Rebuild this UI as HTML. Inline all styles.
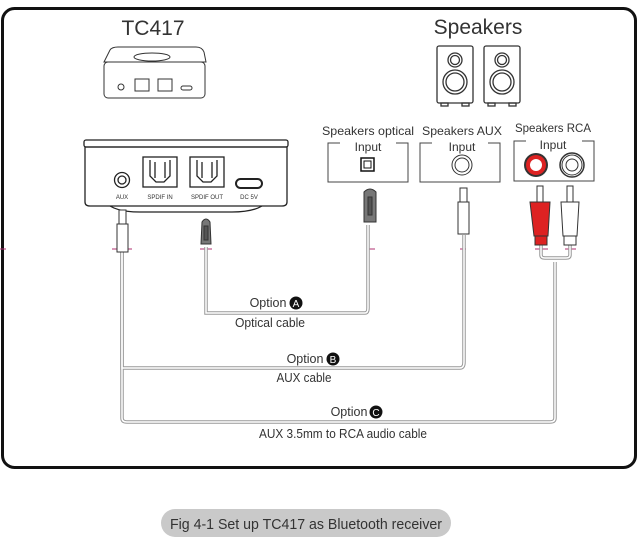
<!DOCTYPE html>
<html><head><style>
html,body{margin:0;padding:0;background:#fff;}
svg{display:block;}
text{font-family:"Liberation Sans",sans-serif;fill:#333;}
</style></head><body>
<svg width="639" height="542" viewBox="0 0 639 542" xmlns="http://www.w3.org/2000/svg">
<rect x="2.5" y="8.5" width="633" height="459" rx="12" fill="#fff" stroke="#111" stroke-width="3"/>
<g stroke="#b03070" stroke-width="1">
<line x1="0" y1="249" x2="6" y2="249"/><line x1="112" y1="249" x2="132" y2="249"/>
<line x1="200" y1="249" x2="212" y2="249"/><line x1="368" y1="249" x2="375" y2="249"/>
<line x1="460" y1="249" x2="466" y2="249"/><line x1="535" y1="249" x2="548" y2="249"/><line x1="565" y1="249" x2="576" y2="249"/>
</g>
<text x="153" y="35" font-size="21" text-anchor="middle">TC417</text>
<text x="478" y="34" font-size="21" text-anchor="middle">Speakers</text>
<g fill="none" stroke="#333" stroke-width="1">
<path d="M110 50 Q112 47 118 47 L196 47 Q202 47 204 52 L206 62 L104 62 Z"/>
<rect x="104" y="62" width="101" height="36" rx="4"/>
<ellipse cx="152" cy="57" rx="18" ry="4"/>
<circle cx="121" cy="87" r="3"/>
<rect x="135" y="79" width="14" height="12"/><rect x="158" y="79" width="14" height="12"/>
<rect x="181" y="86" width="11" height="4" rx="2"/>
</g>
<g fill="none" stroke="#333" stroke-width="1.3">
<rect x="437" y="46" width="36" height="57" rx="2"/><rect x="484" y="46" width="36" height="57" rx="2"/>
<circle cx="455" cy="60" r="7"/><circle cx="455" cy="60" r="4.5"/><circle cx="455" cy="82" r="12"/><circle cx="455" cy="82" r="9"/>
<circle cx="502" cy="60" r="7"/><circle cx="502" cy="60" r="4.5"/><circle cx="502" cy="82" r="12"/><circle cx="502" cy="82" r="9"/>
<rect x="441" y="103" width="7" height="3"/><rect x="462" y="103" width="7" height="3"/>
<rect x="488" y="103" width="7" height="3"/><rect x="509" y="103" width="7" height="3"/>
</g>
<g fill="none" stroke="#222" stroke-width="1.3">
<rect x="84" y="140" width="204" height="7" rx="2"/>
<path d="M85 147 L287 147 L287 202 Q287 206 282 206 L90 206 Q85 206 85 202 Z"/>
<path d="M110 206 Q120 212 140 212 L232 212 Q252 212 262 206"/>
<circle cx="122" cy="180" r="7.5"/><circle cx="122" cy="180" r="4"/>
<rect x="143" y="157" width="34" height="30"/><path d="M150 160 L150 176 L156 182 L164 182 L170 176 L170 160 M155 162 L155 178 M165 162 L165 178"/>
<rect x="190" y="157" width="34" height="30"/><path d="M197 160 L197 176 L203 182 L211 182 L217 176 L217 160 M202 162 L202 178 M212 162 L212 178"/>
<rect x="236" y="179" width="26" height="9" rx="4.5" stroke-width="2"/>
</g>
<g font-size="6" text-anchor="middle"><text x="122" y="199">AUX</text><text x="160" y="199">SPDIF IN</text><text x="207" y="199">SPDIF OUT</text><text x="249" y="199">DC 5V</text></g>
<g fill="none" stroke="#444" stroke-width="1">
<path d="M340 143 L328 143 L328 182 L408 182 L408 143 L396 143"/>
<path d="M432 143 L420 143 L420 182 L500 182 L500 143 L488 143"/>
<path d="M526 141 L514 141 L514 181 L594 181 L594 141 L582 141"/>
</g>
<g font-size="12" text-anchor="middle" textLength="0">
<text x="368" y="135" textLength="92" lengthAdjust="spacingAndGlyphs">Speakers optical</text><text x="368" y="151">Input</text>
<text x="462" y="135" textLength="80" lengthAdjust="spacingAndGlyphs">Speakers AUX</text><text x="462" y="151">Input</text>
<text x="553" y="132" textLength="76" lengthAdjust="spacingAndGlyphs">Speakers RCA</text><text x="553" y="149">Input</text>
</g>
<rect x="361" y="158" width="13" height="13" fill="none" stroke="#111" stroke-width="1.5"/>
<path d="M364 161 L364 168 L371 168 L371 161 Z" fill="none" stroke="#111"/>
<circle cx="462" cy="165" r="10" fill="none" stroke="#333"/><circle cx="462" cy="165" r="7" fill="none" stroke="#333"/>
<circle cx="536" cy="165" r="12" fill="#333"/><circle cx="536" cy="165" r="10" fill="#d22"/><circle cx="536" cy="165" r="6" fill="#fff"/>
<circle cx="572" cy="165" r="12" fill="none" stroke="#333" stroke-width="1.5"/><circle cx="572" cy="165" r="10" fill="none" stroke="#333"/><circle cx="572" cy="165" r="6" fill="none" stroke="#333"/>
<g fill="none" stroke="#999" stroke-width="3.5"><path d="M206 247 L206 313 L365 313 Q368 313 368 308 L368 225"/>
<path d="M122 252 L122 368 L460 368 Q464 368 464 362 L464 235"/>
<path d="M122 252 L122 418 Q122 422 127 422 L550 422 Q555 422 555 418 L555 262 M541 245 L541 255 Q541 258 545 258 L566 258 Q570 258 570 255 L570 245"/></g>
<g fill="none" stroke="#fff" stroke-width="1.5"><path d="M206 247 L206 313 L365 313 Q368 313 368 308 L368 225"/>
<path d="M122 252 L122 368 L460 368 Q464 368 464 362 L464 235"/>
<path d="M122 252 L122 418 Q122 422 127 422 L550 422 Q555 422 555 418 L555 262 M541 245 L541 255 Q541 258 545 258 L566 258 Q570 258 570 255 L570 245"/></g>
<g stroke="#333" stroke-width="1">
<rect x="119" y="210" width="7" height="14" fill="#fff"/><rect x="117" y="224" width="11" height="28" fill="#fff"/>
<path d="M202 222 Q206 216 210 222 L211 244 L201 244 Z" fill="#777"/><rect x="204" y="226" width="4" height="14" fill="#555"/>
<path d="M364 192 Q370 186 376 192 L376 222 L364 222 Z" fill="#777"/><rect x="368" y="197" width="4" height="18" fill="#555"/>
<rect x="460" y="188" width="7" height="14" fill="#fff"/><rect x="458" y="202" width="11" height="32" fill="#fff"/>
<rect x="537" y="186" width="6" height="16" fill="#fff"/><path d="M530 202 L550 202 L548 236 L534 236 Z" fill="#d22"/><rect x="535" y="236" width="12" height="9" fill="#d22"/>
<rect x="567" y="186" width="6" height="16" fill="#fff"/><path d="M561 202 L579 202 L577 236 L563 236 Z" fill="#fff"/><rect x="564" y="236" width="12" height="9" fill="#fff"/>
</g>
<g font-size="12.5" text-anchor="middle">
<text x="268" y="307">Option</text><circle cx="296" cy="303" r="6.5" fill="#111"/><text x="296" y="307" font-size="10" style="fill:#fff">A</text>
<text x="270" y="327" textLength="70" lengthAdjust="spacingAndGlyphs">Optical cable</text>
<text x="305" y="363">Option</text><circle cx="333" cy="359" r="6.5" fill="#111"/><text x="333" y="363" font-size="10" style="fill:#fff">B</text>
<text x="304" y="382" textLength="55" lengthAdjust="spacingAndGlyphs">AUX cable</text>
<text x="349" y="416">Option</text><circle cx="376" cy="412" r="6.5" fill="#111"/><text x="376" y="416" font-size="10" style="fill:#fff">C</text>
<text x="343" y="438" textLength="168" lengthAdjust="spacingAndGlyphs">AUX 3.5mm to RCA audio cable</text>
</g>
<rect x="161" y="509" width="290" height="28" rx="14" fill="#c9c9c9"/>
<text x="306" y="529" font-size="15" text-anchor="middle" textLength="272" lengthAdjust="spacingAndGlyphs">Fig 4-1 Set up TC417 as Bluetooth receiver</text>
</svg>
</body></html>
